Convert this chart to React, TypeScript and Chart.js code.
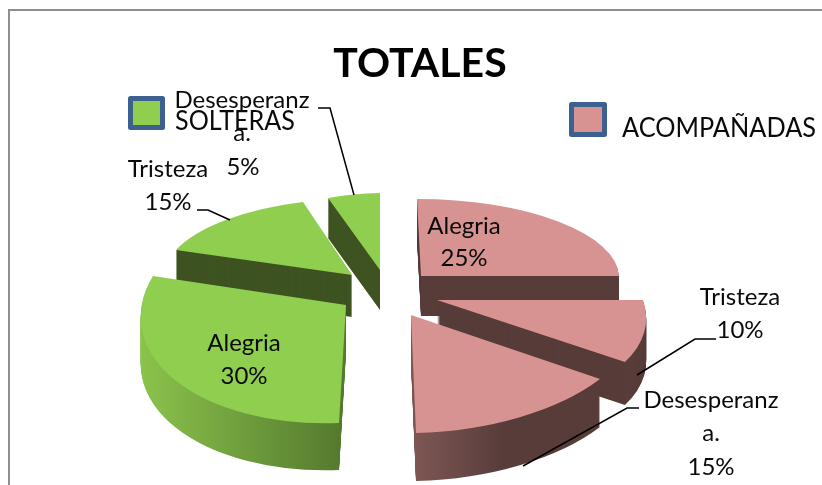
import { useEffect, useRef } from "react";
import { Chart, registerables } from "chart.js";

Chart.register(...registerables);

const categories = ["Alegria", "Tristeza", "Desesperanza", "Alegria", "Tristeza", "Desesperanza"];
const values = [25, 10, 15, 30, 15, 5];
const seriesNames = ["SOLTERAS", "ACOMPAÑADAS"];
const titleText = "TOTALES";

const PINK = "#d79391";
const PINK_DARK = "#573c3a";
const GREEN = "#8fce4f";
const GREEN_DARK = "#3e5321";
const FRAME = "#8e8e8e";
const BOX = "#3c6090";
const FONT = "Lato, Carlito, sans-serif";
const paintOrder = [0, 1, 2, 5, 4, 3];

type View = {
  apex: number[]; start: number[]; end: number[]; depth: number; top: string;
  side: string; ramp?: [number, string, number, string];
};

const views: View[] = [
  { apex: [421, 276], start: [417, 199], end: [619, 276], depth: 40, top: PINK, side: PINK_DARK },
  { apex: [437, 300], start: [643, 300], end: [625, 362], depth: 43, top: PINK, side: PINK_DARK },
  { apex: [411, 315], start: [600, 379], end: [416, 433], depth: 48, top: PINK, side: PINK_DARK, ramp: [416, "#7d5654", 505, PINK_DARK] },
  { apex: [346, 305], start: [339, 423], end: [153, 276], depth: 47, top: GREEN, side: GREEN_DARK, ramp: [137, "#8cc44c", 340, "#557a2f"] },
  { apex: [352, 275], start: [176, 250], end: [303, 202], depth: 42, top: GREEN, side: GREEN_DARK },
  { apex: [380, 270], start: [328, 198], end: [380, 193], depth: 40, top: GREEN, side: GREEN_DARK },
];

const sliceLabels: { text: string; x: number; y: number }[] = [
  { text: "Alegria", x: 464, y: 234 },
  { text: `${values[0]}%`, x: 464, y: 266 },
  { text: "Tristeza", x: 740, y: 305 },
  { text: `${values[1]}%`, x: 740, y: 338 },
  { text: "Desesperanz", x: 711, y: 408 },
  { text: "a.", x: 711, y: 441 },
  { text: `${values[2]}%`, x: 711, y: 475 },
  { text: "Alegria", x: 244, y: 351 },
  { text: `${values[3]}%`, x: 244, y: 384 },
  { text: "Tristeza", x: 168, y: 177 },
  { text: `${values[4]}%`, x: 168, y: 210 },
  { text: "Desesperanz", x: 242, y: 108 },
  { text: "a.", x: 242, y: 141 },
  { text: `${values[5]}%`, x: 243, y: 175 },
];

const leaders: number[][][] = [
  [[318, 108], [330, 108], [354, 195]],
  [[197, 210], [208, 210], [230, 220]],
  [[637, 375], [695, 339], [716, 339]],
  [[523, 466], [627, 408], [639, 408]],
];

function sliceMatrix(arc: any, view: View) {
  const t1 = arc.startAngle;
  const t2 = arc.endAngle;
  const [ax, ay] = view.apex;
  const d1 = [view.start[0] - ax, view.start[1] - ay];
  const d2 = [view.end[0] - ax, view.end[1] - ay];
  const det = Math.sin(t2 - t1);
  const c1 = Math.cos(t1), s1 = Math.sin(t1), c2 = Math.cos(t2), s2 = Math.sin(t2);
  const p = [0, 1].map((i) => (d1[i] * s2 - d2[i] * s1) / det);
  const q = [0, 1].map((i) => (c1 * d2[i] - c2 * d1[i]) / det);
  const R = arc.outerRadius;
  const a = p[0] / R, b = p[1] / R, c = q[0] / R, d = q[1] / R;
  return { a, b, c, d, e: ax - a * arc.x - c * arc.y, f: ay - b * arc.x - d * arc.y };
}

const slices3d = {
  id: "slices3d",
  beforeDatasetsDraw(chart: any) {
    const ctx = chart.ctx;
    const arcs = chart.getDatasetMeta(0).data;
    paintOrder.forEach((i) => {
      const arc = arcs[i];
      const view = views[i];
      const m = sliceMatrix(arc, view);
      const base = arc.options;
      let side: any = view.side;
      if (view.ramp) {
        const [x0, col0, x1, col1] = view.ramp;
        const n = m.a * m.a + m.c * m.c;
        const s0 = (x0 - m.e) / n;
        const s1 = (x1 - m.e) / n;
        const g = ctx.createLinearGradient(s0 * m.a, s0 * m.c, s1 * m.a, s1 * m.c);
        g.addColorStop(0, col0);
        g.addColorStop(1, col1);
        side = g;
      }
      for (let dy = view.depth; dy >= 0; dy--) {
        ctx.save();
        ctx.translate(0, dy);
        ctx.transform(m.a, m.b, m.c, m.d, m.e, m.f);
        arc.options = { ...base, backgroundColor: dy === 0 ? view.top : side };
        arc.draw(ctx);
        ctx.restore();
      }
      arc.options = base;
    });
    return false;
  },
  afterDraw(chart: any) {
    const ctx = chart.ctx;
    ctx.save();
    ctx.strokeStyle = FRAME;
    ctx.lineWidth = 2;
    ctx.beginPath();
    ctx.moveTo(9, 485);
    ctx.lineTo(9, 10);
    ctx.lineTo(822, 10);
    ctx.stroke();

    ctx.strokeStyle = "#000";
    ctx.lineWidth = 1.5;
    leaders.forEach((pts) => {
      ctx.beginPath();
      pts.forEach(([x, y], i) => (i ? ctx.lineTo(x, y) : ctx.moveTo(x, y)));
      ctx.stroke();
    });

    ctx.lineWidth = 5;
    ctx.lineJoin = "round";
    ctx.strokeStyle = BOX;
    ctx.fillStyle = GREEN;
    ctx.beginPath();
    ctx.rect(130.5, 98.5, 32, 29);
    ctx.fill();
    ctx.stroke();
    ctx.fillStyle = PINK;
    ctx.beginPath();
    ctx.rect(571.5, 104.5, 33, 30);
    ctx.fill();
    ctx.stroke();

    ctx.fillStyle = "#0a0a0a";
    ctx.textBaseline = "alphabetic";
    ctx.textAlign = "center";
    ctx.font = `24px ${FONT}`;
    sliceLabels.forEach((l) => ctx.fillText(l.text, l.x, l.y, l.text.length > 8 ? 136 : undefined as any));
    ctx.textAlign = "left";
    ctx.font = `26px ${FONT}`;
    ctx.fillText(seriesNames[0], 175, 130, 120);
    ctx.fillText(seriesNames[1], 622, 137, 194);
    ctx.restore();
  },
};

export default function App() {
  const ref = useRef<HTMLCanvasElement>(null);
  useEffect(() => {
    const chart = new Chart(ref.current!, {
      type: "pie",
      data: {
        labels: categories,
        datasets: [{ data: values, backgroundColor: views.map((v) => v.top), borderWidth: 0 }],
      },
      options: {
        responsive: false,
        animation: false,
        events: [],
        layout: { padding: { left: 18 } },
        plugins: {
          legend: { display: false },
          tooltip: { enabled: false },
          title: {
            display: true,
            text: titleText,
            fullSize: false,
            color: "#000",
            font: { family: FONT, size: 41, weight: "bold" },
            padding: { top: 39, bottom: 0 },
          },
        },
      },
      plugins: [slices3d],
    } as any);
    return () => chart.destroy();
  }, []);
  return (
    <div style={{ position: "absolute", left: 0, top: 0, width: 822, height: 485, background: "#fff" }}>
      <canvas ref={ref} width={822} height={485} style={{ display: "block" }} />
    </div>
  );
}
